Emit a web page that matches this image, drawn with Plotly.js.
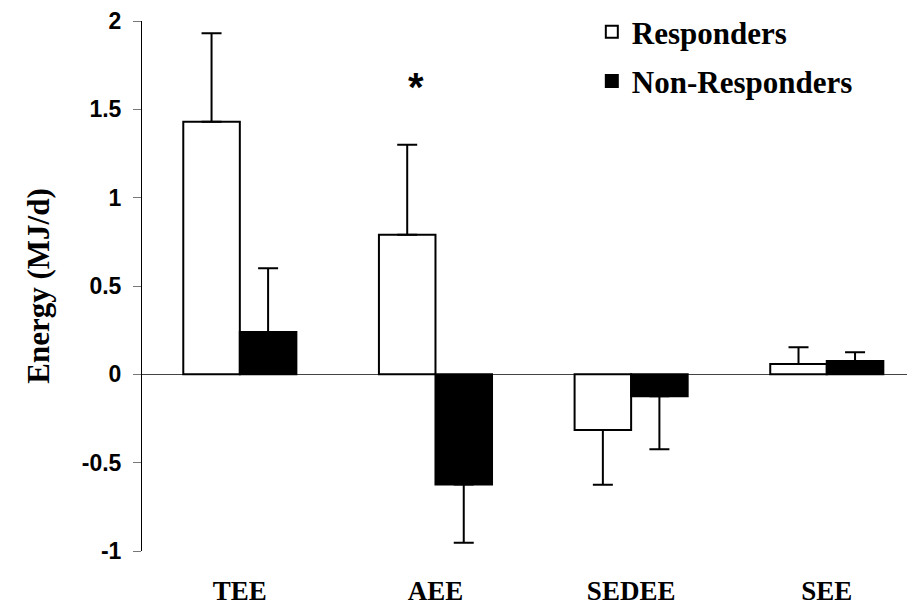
<!DOCTYPE html>
<html>
<head>
<meta charset="utf-8">
<script src="https://cdn.plot.ly/plotly-3.0.1.min.js"></script>
<style>html,body{margin:0;padding:0;background:#fff;}#chart{width:907px;height:609px;}</style>
</head>
<body>
<div id="chart"></div>
<script>
const categories = ["TEE", "AEE", "SEDEE", "SEE"];
const responders = [1.43, 0.79, -0.315, 0.058];
const respondersErr = [0.50, 0.51, 0.31, 0.095];
const nonResponders = [0.24, -0.624, -0.124, 0.075];
const nonRespondersErr = [0.36, 0.33, 0.30, 0.05];
const yTicks = [-1, -0.5, 0, 0.5, 1, 1.5, 2];
const yTickLabels = ["-1", "-0.5", "0", "0.5", "1", "1.5", "2"];

function plusErr(vals, errs) { return vals.map((v, i) => v >= 0 ? errs[i] : 0); }
function minusErr(vals, errs) { return vals.map((v, i) => v < 0 ? errs[i] : 0); }

const serif = "Liberation Serif, Times New Roman, serif";
const sans = "Liberation Sans, Arial, sans-serif";

const traces = [
  {
    type: "bar", name: "Responders", x: categories, y: responders,
    legendgroup: "a",
    marker: {color: "#ffffff", line: {color: "#000000", width: 2}},
    error_y: {type: "data", symmetric: false, array: plusErr(responders, respondersErr),
      arrayminus: minusErr(responders, respondersErr), color: "#000000", thickness: 2, width: 10}
  },
  {
    type: "bar", name: "Non-Responders", x: categories, y: nonResponders,
    legendgroup: "b",
    marker: {color: "#000000", line: {color: "#000000", width: 2}},
    error_y: {type: "data", symmetric: false, array: plusErr(nonResponders, nonRespondersErr),
      arrayminus: minusErr(nonResponders, nonRespondersErr), color: "#000000", thickness: 2, width: 10}
  }
];

const layout = {
  width: 907, height: 609,
  margin: {l: 142, r: 0, t: 21, b: 58, pad: 0},
  paper_bgcolor: "#ffffff", plot_bgcolor: "#ffffff",
  barmode: "group", bargap: 0.422, bargroupgap: 0,
  showlegend: true,
  legend: {x: 0.588, xanchor: "left", y: 1.03, yanchor: "top",
    font: {family: serif, size: 31, color: "#000", weight: "bold"},
    bgcolor: "rgba(0,0,0,0)", traceorder: "grouped", tracegroupgap: 6},
  xaxis: {
    type: "category", range: [-0.5, 3.41], showgrid: false, showline: false, zeroline: false,
    ticks: "", tickfont: {family: serif, size: 27, color: "#000", weight: "bold"},
    ticklabelstandoff: 21
  },
  yaxis: {
    range: [-1, 2], tickvals: yTicks, ticktext: yTickLabels,
    showgrid: false, showline: true, linecolor: "#000", linewidth: 1,
    ticks: "outside", ticklen: 8, tickcolor: "#777", tickwidth: 1,
    zeroline: true, zerolinecolor: "#444", zerolinewidth: 1,
    tickfont: {family: sans, size: 23, color: "#000", weight: "bold"},
    ticklabelstandoff: 7,
    title: {text: "Energy (MJ/d)", font: {family: serif, size: 31, color: "#000", weight: "bold"}, standoff: 22}
  },
  annotations: [{
    x: "AEE", y: 1.627, xref: "x", yref: "y", xshift: -19, text: "*", showarrow: false,
    font: {family: sans, size: 40, color: "#000", weight: "bold"}
  }]
};

Plotly.newPlot("chart", traces, layout, {displayModeBar: false, staticPlot: true});
</script>
</body>
</html>
